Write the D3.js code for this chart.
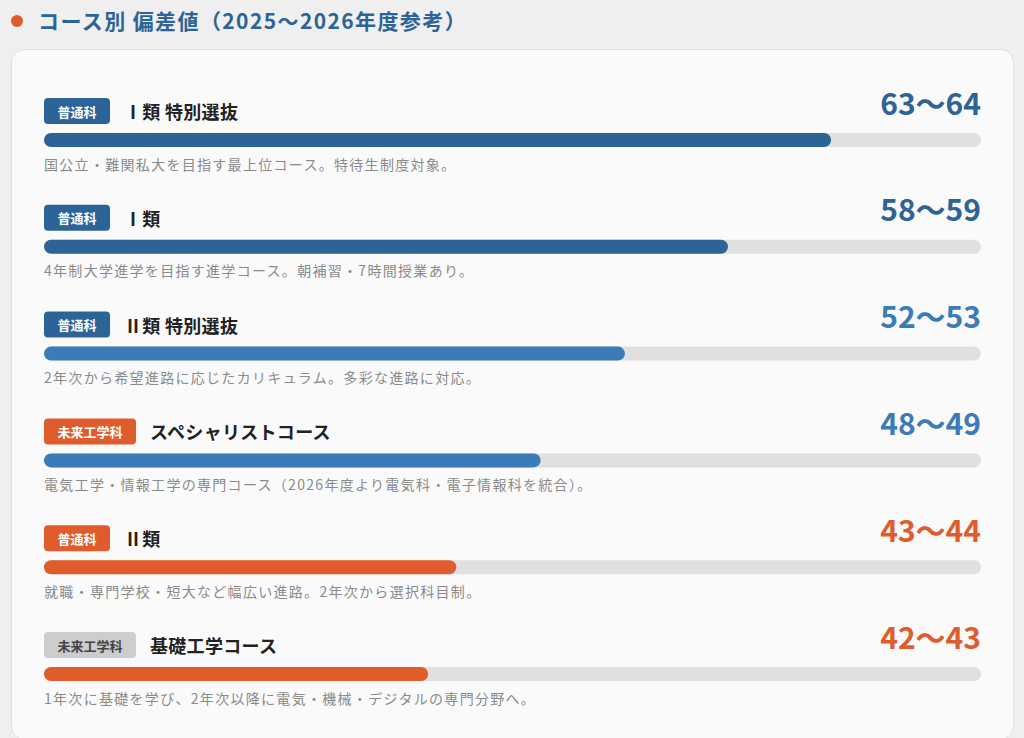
<!DOCTYPE html>
<html><head><meta charset="utf-8">
<script src="https://cdn.jsdelivr.net/npm/d3@7/dist/d3.min.js"></script>
<style>
html,body{margin:0;padding:0;background:#efefef;}
svg{display:block;font-family:"Noto Sans CJK JP","Noto Sans",sans-serif;}
</style></head>
<body>
<svg id="chart" width="1024" height="738"></svg>
<script>
const title = "コース別 偏差値（2025〜2026年度参考）";
const departments = ["普通科","普通科","普通科","未来工学科","普通科","未来工学科"];
const courses = ["Ⅰ類 特別選抜","Ⅰ類","Ⅱ類 特別選抜","スペシャリストコース","Ⅱ類","基礎工学コース"];
const ranges = ["63〜64","58〜59","52〜53","48〜49","43〜44","42〜43"];
const barPercent = [84, 73, 62, 53, 44, 41];
const descriptions = [
  "国公立・難関私大を目指す最上位コース。特待生制度対象。",
  "4年制大学進学を目指す進学コース。朝補習・7時間授業あり。",
  "2年次から希望進路に応じたカリキュラム。多彩な進路に対応。",
  "電気工学・情報工学の専門コース（2026年度より電気科・電子情報科を統合）。",
  "就職・専門学校・短大など幅広い進路。2年次から選択科目制。",
  "1年次に基礎を学び、2年次以降に電気・機械・デジタルの専門分野へ。"
];
const barTier = ["dark","dark","mid","mid","orange","orange"];
const badgeTier = ["dark","dark","dark","orange","orange","gray"];

const colors = {dark:"#2c6497", mid:"#3b7bb7", orange:"#e05c2c", gray:"#cdcdcd"};

const svg = d3.select("#chart");

// title
svg.append("circle").attr("cx",17).attr("cy",21).attr("r",6).attr("fill","#e05c2c");
svg.append("text").attr("x",38).attr("y",28.5).attr("font-size",21).attr("font-weight",700)
  .attr("letter-spacing",1.4).attr("fill","#2c6497").text(title);

// card
svg.append("rect").attr("x",11.5).attr("y",49.5).attr("width",1002).attr("height",690)
  .attr("rx",13).attr("fill","#fafafa").attr("stroke","#e2e2e2");

const idx = d3.range(courses.length);
const y = d3.scaleBand().domain(idx).range([85, 85 + 6*106.8]).paddingInner(0);
const x = d3.scaleLinear().domain([0,100]).range([44, 981]);

const rows = svg.selectAll("g.row").data(idx).join("g").attr("class","row")
  .attr("transform", i => `translate(0,${y(i)})`);

// badges
rows.each(function(i){
  const g = d3.select(this);
  const t = g.append("text").attr("y",26).attr("dominant-baseline","central")
    .attr("font-size",13).attr("font-weight",700)
    .attr("fill", badgeTier[i]==="gray" ? "#444" : "#fff").text(departments[i]);
  const w = t.node().getComputedTextLength();
  const pad = 13.5;
  g.insert("rect","text").attr("x",44).attr("y",13).attr("width",w+pad*2).attr("height",26)
    .attr("rx",4).attr("fill",colors[badgeTier[i]]);
  t.attr("x",44+pad);
  g.append("text").attr("x",44+w+pad*2+14).attr("y",26).attr("dominant-baseline","central")
    .attr("font-size",18).attr("font-weight",700).attr("letter-spacing",0.3).attr("fill","#222").text(courses[i]);
});

// values
rows.append("text").attr("x",x(100)).attr("y",29.5).attr("text-anchor","end")
  .attr("font-size",30).attr("font-weight",700).attr("fill",i=>colors[barTier[i]]).text(i=>ranges[i]);

// track
rows.append("rect").attr("x",x(0)).attr("y",48).attr("width",x(100)-x(0)).attr("height",14)
  .attr("rx",7).attr("fill","#e0e0e0");
// bar
rows.append("rect").attr("x",x(0)).attr("y",48).attr("width",i=>x(barPercent[i])-x(0)).attr("height",14)
  .attr("rx",7).attr("fill",i=>colors[barTier[i]]);

// descriptions
rows.append("text").attr("x",44).attr("y",78.5).attr("dominant-baseline","central")
  .attr("font-size",14).attr("letter-spacing",1.3).attr("fill","#8a8a8a").text(i=>descriptions[i]);
</script>
</body></html>
